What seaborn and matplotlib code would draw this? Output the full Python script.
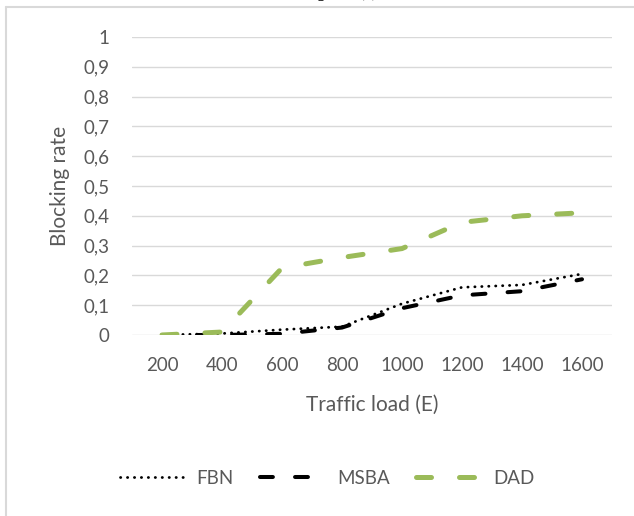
import matplotlib
matplotlib.use("Agg")
import matplotlib.pyplot as plt
import seaborn as sns
import pandas as pd
from matplotlib.lines import Line2D

# données
traffic = [200, 400, 600, 800, 1000, 1200, 1400, 1600]
fbn = [0.0, 0.005, 0.018, 0.028, 0.105, 0.16, 0.168, 0.205]
msba = [0.0, 0.0, 0.004, 0.025, 0.09, 0.133, 0.147, 0.187]
dad = [0.0, 0.01, 0.225, 0.26, 0.29, 0.378, 0.40, 0.41]

ytick_vals = [0, 0.1, 0.2, 0.3, 0.4, 0.5, 0.6, 0.7, 0.8, 0.9, 1]
ytick_labels = ["0", "0,1", "0,2", "0,3", "0,4", "0,5", "0,6", "0,7", "0,8", "0,9", "1"]

df = pd.DataFrame({"Traffic": traffic, "FBN": fbn, "MSBA": msba, "DAD": dad})

sns.set_style("white")
plt.rcParams["font.family"] = ["Lato", "DejaVu Sans"]
grey = "#595959"

fig = plt.figure(figsize=(6.34, 5.16), dpi=100)
ax = fig.add_axes([132 / 634, 1 - 335 / 516, 480 / 634, 298 / 516])

# style de chaque série : couleur, épaisseur, tirets
styles = {
    "FBN": ("black", 2.0, (0.1, 2.4)),
    "MSBA": ("black", 2.9, (3.2, 5.5)),
    "DAD": ("#9BBB59", 3.6, (3.0, 5.6)),
}
for name, (col, lw, dash) in styles.items():
    sns.lineplot(data=df, x="Traffic", y=name, ax=ax, color=col, linewidth=lw,
                 dashes=False, label=name, dash_capstyle="round")
    ax.lines[-1].set_dashes(dash)

ax.set_xlim(100, 1700)
ax.set_ylim(0, 1)
ax.set_xticks(traffic)
ax.set_yticks(ytick_vals)
ax.set_yticklabels(ytick_labels)
ax.grid(axis="y", color="#D9D9D9", linewidth=1)
ax.set_axisbelow(True)
for s in ax.spines.values():
    s.set_visible(False)
ax.tick_params(axis="both", length=0, labelsize=13.5, labelcolor=grey)
ax.tick_params(axis="x", pad=16)
ax.tick_params(axis="y", pad=16)

ax.set_xlabel("Traffic load (E)", fontsize=15, color=grey, labelpad=15)
ax.set_ylabel("Blocking rate", fontsize=15, color=grey, labelpad=10)

leg = ax.legend(loc="center", bbox_to_anchor=(327 / 634, 1 - 478 / 516),
                bbox_transform=fig.transFigure, ncol=3, frameon=False,
                fontsize=13.5, handlelength=3.4, columnspacing=1.4,
                handletextpad=0.7)
for t in leg.get_texts():
    t.set_color(grey)

# cadre et titre coupé
fig.add_artist(Line2D([6 / 634, 6 / 634], [0, 1 - 7 / 516], color="#D9D9D9",
                      linewidth=1.5, transform=fig.transFigure))
fig.add_artist(Line2D([6 / 634, 1], [1 - 7 / 516, 1 - 7 / 516], color="#D9D9D9",
                      linewidth=1.5, transform=fig.transFigure))
fig.text(340 / 634, 1 + 3 / 516, "Figure 6(a)", family="Liberation Serif",
         fontsize=12, ha="center", va="baseline", color="black")

plt.savefig("out.png", dpi=100)
